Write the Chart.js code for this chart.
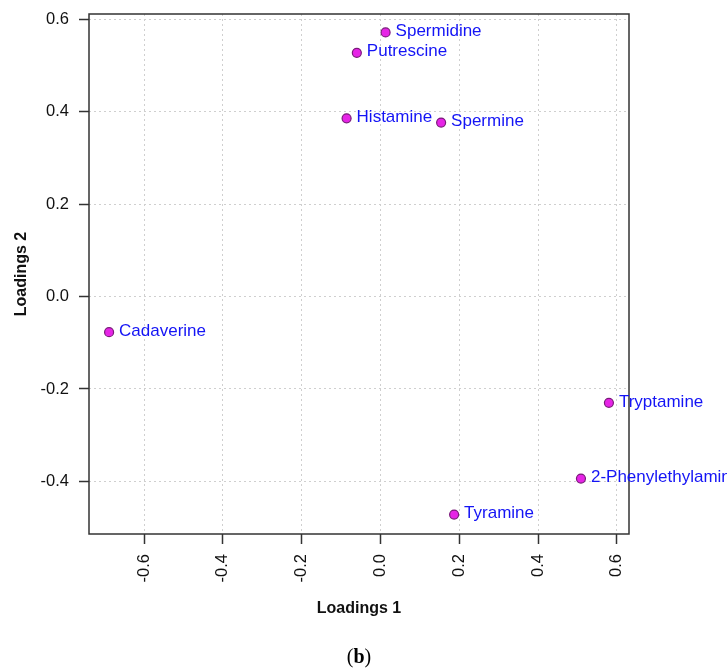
<!DOCTYPE html>
<html>
<head>
<meta charset="utf-8">
<title>Loadings plot</title>
<script src="https://cdn.jsdelivr.net/npm/chart.js@4"></script>
<style>
  html, body { margin: 0; padding: 0; background: #fff; }
  #wrap { width: 727px; height: 671px; position: relative; }
</style>
</head>
<body>
<div id="wrap"><canvas id="loadingsChart"></canvas></div>
<script>
// amine loadings on the first two components
const amines = ['Spermidine', 'Putrescine', 'Histamine', 'Spermine', 'Cadaverine',
                'Tryptamine', '2-Phenylethylamine', 'Tyramine'];
const loadings1 = [0.013, -0.060, -0.086, 0.154, -0.689, 0.580, 0.509, 0.187];
const loadings2 = [0.572, 0.528, 0.386, 0.377, -0.077, -0.230, -0.394, -0.472];

const xTicks = [-0.6, -0.4, -0.2, 0.0, 0.2, 0.4, 0.6];
const yTicks = [-0.4, -0.2, 0.0, 0.2, 0.4, 0.6];

const FONT = 'Arial, "Liberation Sans", sans-serif';

function fmt(v) {
    if (Math.abs(v) < 1e-9) return '0.0';
    return v.toFixed(1);
}

// box around the plot area
const frameBox = {
    id: 'frameBox',
    afterDatasetsDraw(chart) {
        const { ctx, chartArea: a } = chart;
        ctx.save();
        ctx.strokeStyle = '#333';
        ctx.lineWidth = 1.5;
        ctx.strokeRect(a.left, a.top, a.right - a.left, a.bottom - a.top);
        ctx.restore();
    }
};

// names next to each point, allowed to run past the box
const pointNames = {
    id: 'pointNames',
    afterDatasetsDraw(chart) {
        const { ctx } = chart;
        const meta = chart.getDatasetMeta(0);
        ctx.save();
        ctx.font = '17px ' + FONT;
        ctx.fillStyle = '#1414f5';
        ctx.textBaseline = 'middle';
        ctx.textAlign = 'left';
        meta.data.forEach((pt, i) => {
            ctx.fillText(amines[i], pt.x + 10, pt.y - 1);
        });
        ctx.restore();
    }
};

// panel letter under the chart
const panelTag = {
    id: 'panelTag',
    afterDraw(chart) {
        const { ctx } = chart;
        const cx = (chart.chartArea.left + chart.chartArea.right) / 2;
        const y = 658;
        ctx.save();
        ctx.fillStyle = '#000';
        ctx.textBaseline = 'middle';
        ctx.textAlign = 'left';
        const reg = '20px "Liberation Serif", "Times New Roman", serif';
        const bold = 'bold 20px "Liberation Serif", "Times New Roman", serif';
        ctx.font = reg;
        const wp = ctx.measureText('(').width;
        const wc = ctx.measureText(')').width;
        ctx.font = bold;
        const wb = ctx.measureText('b').width;
        let x = cx - (wp + wb + wc) / 2;
        ctx.font = reg;
        ctx.fillText('(', x, y);
        x += wp;
        ctx.font = bold;
        ctx.fillText('b', x, y);
        x += wb;
        ctx.font = reg;
        ctx.fillText(')', x, y);
        ctx.restore();
    }
};

const gridOpts = {
    color: '#cfcfcf',
    lineWidth: 1,
    drawTicks: true,
    tickLength: 10,
    tickColor: '#333',
    tickWidth: 1.5,
    tickBorderDash: []
};

const ctx = document.getElementById('loadingsChart').getContext('2d');
const loadingsChart = new Chart(ctx, {
    type: 'scatter',
    data: {
        datasets: [{
            label: 'Loadings',
            data: amines.map((n, i) => ({ x: loadings1[i], y: loadings2[i] })),
            backgroundColor: '#e624e6',
            borderColor: '#7a1a7a',
            borderWidth: 1.2,
            pointRadius: 4.5,
            pointHoverRadius: 4.5
        }]
    },
    options: {
        responsive: true,
        maintainAspectRatio: false,
        animation: false,
        events: [],
        layout: { padding: { left: 0, top: 14, right: 98, bottom: 0 } },
        plugins: {
            legend: { display: false },
            tooltip: { enabled: false }
        },
        scales: {
            x: {
                type: 'linear',
                min: -0.74,
                max: 0.631,
                afterBuildTicks: (s) => { s.ticks = xTicks.map(v => ({ value: v })); },
                afterFit: (s) => {
                    s.height = 137;
                    s.paddingLeft = 0;
                    s.paddingRight = 0;
                },
                ticks: {
                    color: '#111',
                    font: { size: 16.5, family: FONT },
                    padding: 10,
                    minRotation: 90,
                    maxRotation: 90,
                    callback: (v) => fmt(v)
                },
                grid: gridOpts,
                border: { display: false, dash: [2, 3] },
                title: {
                    display: true,
                    text: 'Loadings 1',
                    color: '#111',
                    font: { size: 16, weight: 'bold', family: FONT },
                    padding: { top: 4, bottom: 53 }
                }
            },
            y: {
                type: 'linear',
                min: -0.514,
                max: 0.612,
                afterBuildTicks: (s) => { s.ticks = yTicks.map(v => ({ value: v })); },
                afterFit: (s) => {
                    s.width = 89;
                    s.paddingTop = 0;
                    s.paddingBottom = 0;
                },
                ticks: {
                    color: '#111',
                    font: { size: 16.5, family: FONT },
                    padding: 10,
                    callback: (v) => fmt(v)
                },
                grid: gridOpts,
                border: { display: false, dash: [2, 3] },
                title: {
                    display: true,
                    text: 'Loadings 2',
                    color: '#111',
                    font: { size: 16, weight: 'bold', family: FONT },
                    padding: { top: 12, bottom: 4 }
                }
            }
        }
    },
    plugins: [frameBox, pointNames, panelTag]
});
</script>
</body>
</html>
